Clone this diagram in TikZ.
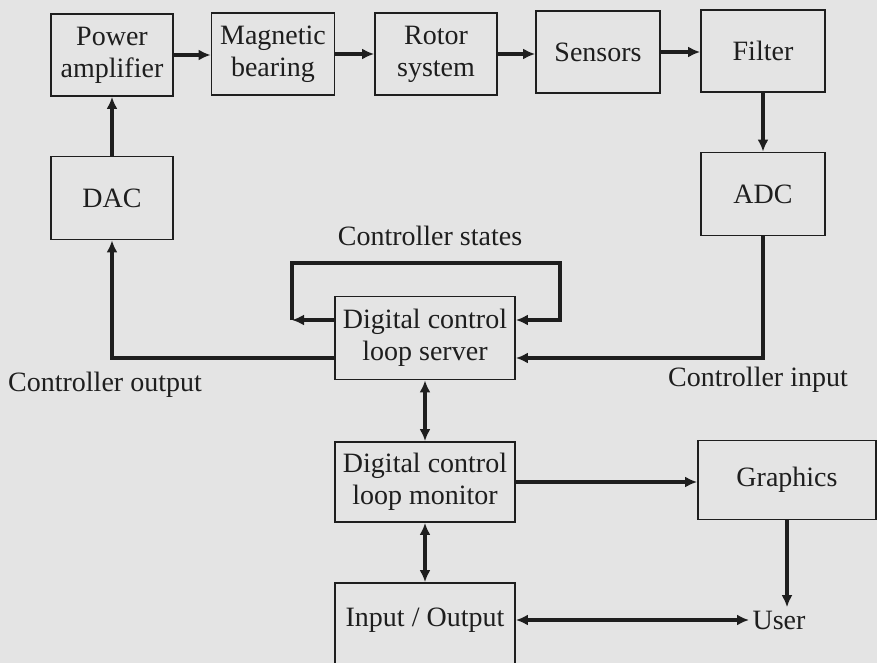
\documentclass[tikz,border=0pt]{standalone}
\usepackage{fontspec}
\setmainfont{Liberation Serif}
\usetikzlibrary{arrows.meta}
\definecolor{bg}{RGB}{228,228,228}
\definecolor{ink}{RGB}{30,30,30}
\begin{document}
\begin{tikzpicture}[x=1pt,y=-1pt,
  every node/.style={font=\fontsize{28}{32}\selectfont, text=ink},
  box/.style={draw=ink, line width=1.8pt, fill=bg, align=center, inner sep=2pt},
  arr/.style={draw=ink, line width=4pt, -{Latex[length=12pt,width=11pt]}},
  darr/.style={draw=ink, line width=4pt, {Latex[length=12pt,width=11pt]}-{Latex[length=12pt,width=11pt]}}]
\fill[bg] (0,0) rectangle (877,663);
\useasboundingbox (0,0) rectangle (877,663);
\clip (0,0) rectangle (877,663);
% top row
\node[box, minimum width=122pt, minimum height=82pt] (pa) at (112,55) {Power\\amplifier};
\node[box, minimum width=123pt, minimum height=82pt] (mb) at (273,54) {Magnetic\\bearing};
\node[box, minimum width=122pt, minimum height=82pt] (rs) at (436,54) {Rotor\\system};
\node[box, minimum width=124pt, minimum height=82pt] (se) at (598,52) {Sensors};
\node[box, minimum width=124pt, minimum height=82pt] (fi) at (763,51) {Filter};
% converters
\node[box, minimum width=122pt, minimum height=83pt] (dac) at (112,198) {DAC};
\node[box, minimum width=124pt, minimum height=83pt] (adc) at (763,194) {ADC};
% server / monitor
\node[box, minimum width=180pt, minimum height=83pt] (srv) at (425,338) {Digital control\\loop server};
\node[box, minimum width=180pt, minimum height=80pt] (mon) at (425,482) {Digital control\\loop monitor};
\node[box, minimum width=178pt, minimum height=79pt] (gr) at (787,480) {Graphics};
\node[box, minimum width=180pt, minimum height=110pt] (io) at (425,638) {};
\node (iot) at (425,620) {Input / Output};
\node (user) at (779,620) {User};
% labels
\node (lstates) at (430,236) {Controller states};
\node (lout) at (105,385) {Controller output};
\node (lin) at (758,380) {Controller input};
% top row arrows
\draw[arr] (pa.east) -- (pa.east -| mb.west);
\draw[arr] (mb.east) -- (mb.east -| rs.west);
\draw[arr] (rs.east) -- (rs.east -| se.west);
\draw[arr] (se.east) -- (se.east -| fi.west);
\draw[arr] (dac.north) -- (pa.south);
\draw[arr] (fi.south) -- (adc.north);
% controller output / input
\coordinate (co) at (112,358);
\coordinate (ci) at (763,358);
\draw[arr] ([yshift=-20pt]srv.west) -- (co) -- (dac.south);
\draw[arr] (adc.south) -- (ci) -- ([yshift=-20pt]srv.east);
% controller states loop
\coordinate (cl) at (292,320);
\coordinate (ctl) at (292,263);
\coordinate (ctr) at (560,263);
\coordinate (cr) at (560,320);
\draw[arr] ([yshift=18pt]srv.west) -- (cl);
\draw[arr] (cl) -- (ctl) -- (ctr) -- (cr) -- ([yshift=18pt]srv.east);
% lower part
\draw[darr] (srv.south) -- (mon.north);
\draw[darr] (mon.south) -- (io.north);
\draw[arr] (mon.east) -- (mon.east -| gr.west);
\draw[arr] (gr.south) -- (gr.south |- user.north);
\draw[darr] (io.east |- iot) -- (user.west);
\end{tikzpicture}
\end{document}
